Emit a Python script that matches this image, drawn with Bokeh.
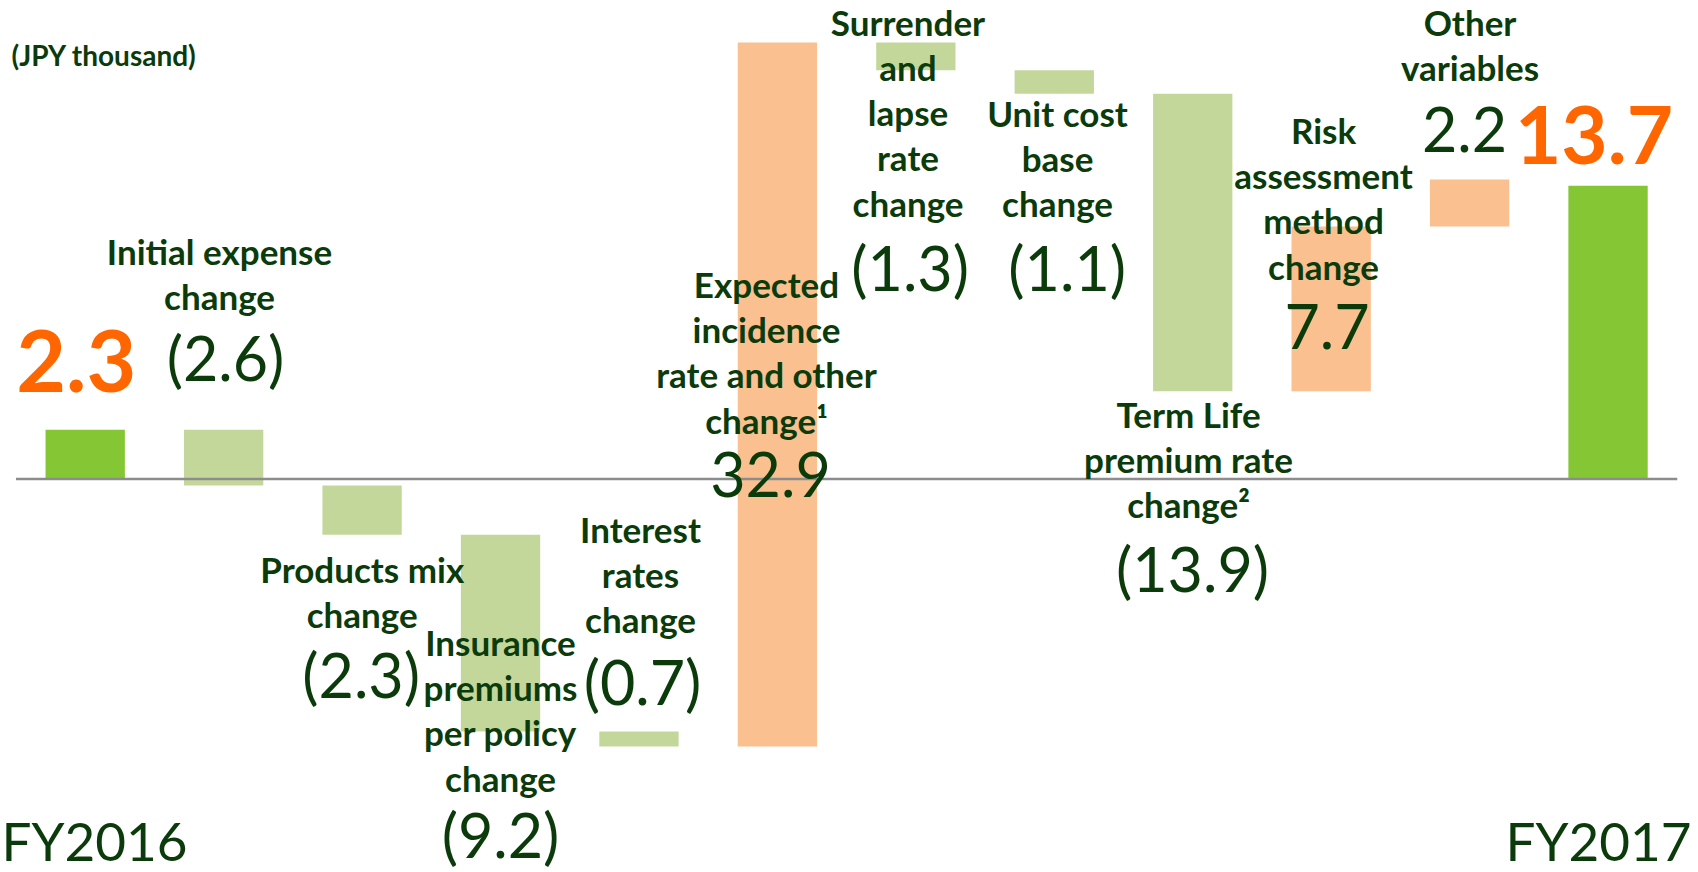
from bokeh.plotting import figure
from bokeh.models import ColumnDataSource, Range1d
from bokeh.core.properties import value
from bokeh.embed import file_html
from bokeh.resources import INLINE

# ---------------- data ----------------
categories = ["FY2016", "Initial expense change", "Products mix change",
              "Insurance premiums per policy change", "Interest rates change",
              "Expected incidence rate and other change", "Surrender and lapse rate change",
              "Unit cost base change", "Term Life premium rate change",
              "Risk assessment method change", "Other variables", "FY2017"]
start_value = 2.3
changes = [-2.6, -2.3, -9.2, -0.7, 32.9, -1.3, -1.1, -13.9, 7.7, 2.2]
end_value = 13.7

label_lines = [
    ["Initial expense", "change"],
    ["Products mix", "change"],
    ["Insurance", "premiums", "per policy", "change"],
    ["Interest", "rates", "change"],
    ["Expected", "incidence", "rate and other", "change\u00b9"],
    ["Surrender", "and", "lapse", "rate", "change"],
    ["Unit cost", "base", "change"],
    ["Term Life", "premium rate", "change\u00b2"],
    ["Risk", "assessment", "method", "change"],
    ["Other", "variables"],
]
value_labels = ["(2.6)", "(2.3)", "(9.2)", "(0.7)", "32.9", "(1.3)", "(1.1)", "(13.9)", "7.7", "2.2"]
total_labels = ["2.3", "13.7"]
year_labels = ["FY2016", "FY2017"]
unit_label = "(JPY thousand)"

# ---------------- layout (pixels in the picture) ----------------
W, H = 1698, 872
X_CENTER0, X_STEP = 84.7, 138.44     # pixel centre of first category, category step
Y_ZERO, Y_SCALE = 478.5, 21.4        # pixel of value 0, pixels per unit
LINE_GAP = 45.2
TY = -2.5                            # small vertical nudge for texts

def dx(px):   # pixel x -> data x
    return (px - X_CENTER0) / X_STEP

def dy(py):   # pixel y -> data y
    return (Y_ZERO - (py + TY)) / Y_SCALE

# label block positions: (x px, first line y px, number x px, number y px)
label_pos = [
    (219, 253, 225, 359),
    (361.7, 570.7, 360.6, 676.8),
    (500, 644, 500, 836),
    (640, 530.6, 642, 683),
    (766, 286, 770, 476.5),
    (907.5, 23.8, 909.6, 269.6),
    (1057, 114.8, 1066.7, 269.6),
    (1188, 415.8, 1192, 570.7),
    (1323, 132, 1326.5, 328),
    (1469.5, 23.8, 1464, 131),
]

TEXT_DARK = "#0b3b0b"
ORANGE_TXT = "#ff6600"
GREEN_TOTAL = "#84c634"
GREEN_LIGHT = "#c4d79b"
ORANGE_LIGHT = "#fac090"
FONT = "Lato"

# ---------------- bars ----------------
n = len(categories)
xs, bottoms, tops, colors = [], [], [], []
xs.append(0); bottoms.append(0); tops.append(start_value); colors.append(GREEN_TOTAL)
cum = start_value
for i, c in enumerate(changes):
    new = cum + c
    xs.append(i + 1)
    bottoms.append(min(cum, new)); tops.append(max(cum, new))
    colors.append(ORANGE_LIGHT if c > 0 else GREEN_LIGHT)
    cum = new
xs.append(n - 1); bottoms.append(0); tops.append(end_value); colors.append(GREEN_TOTAL)

bar_src = ColumnDataSource(dict(x=xs, bottom=bottoms, top=tops, color=colors))

p = figure(width=W, height=H, output_backend="svg", toolbar_location=None,
           x_range=Range1d(dx(0), dx(W)),
           y_range=Range1d((Y_ZERO - H) / Y_SCALE, Y_ZERO / Y_SCALE),
           min_border=0, min_border_left=0, min_border_right=0,
           min_border_top=0, min_border_bottom=0)
p.xaxis.visible = False
p.yaxis.visible = False
p.grid.visible = False
p.outline_line_color = None
p.background_fill_color = "white"
p.border_fill_color = "white"

p.vbar(x="x", bottom="bottom", top="top", width=0.573, color="color",
       line_color=None, source=bar_src)

# zero line across the categories
p.segment(x0=[-0.5], y0=[0], x1=[n - 0.5], y1=[0], line_color="#8c8c8c", line_width=2.5)

# ---------------- texts ----------------
lx, ly, lt = [], [], []
nx, ny, nt = [], [], []
for lines, (px, py, npx, npy), vl in zip(label_lines, label_pos, value_labels):
    for k, line in enumerate(lines):
        lx.append(dx(px)); ly.append(dy(py + k * LINE_GAP)); lt.append(line)
    nx.append(dx(npx)); ny.append(dy(npy)); nt.append(vl)

p.text(x="x", y="y", text="t", source=ColumnDataSource(dict(x=lx, y=ly, t=lt)),
       text_font=value(FONT), text_font_style="bold", text_font_size="35px",
       text_color=TEXT_DARK, text_align="center", text_baseline="middle")

p.text(x="x", y="y", text="t", source=ColumnDataSource(dict(x=nx, y=ny, t=nt)),
       text_font=value(FONT), text_font_size="61px",
       text_color=TEXT_DARK, text_align="center", text_baseline="middle")

p.text(x=[dx(75.8)], y=[dy(362.8)], text=[total_labels[0]],
       text_font=value(FONT), text_font_style="bold", text_font_size="86px",
       text_color=ORANGE_TXT, text_align="center", text_baseline="middle")
p.text(x=[dx(1593.5)], y=[dy(136.5)], text=[total_labels[1]],
       text_font=value(FONT), text_font_style="bold", text_font_size="80px",
       text_color=ORANGE_TXT, text_align="center", text_baseline="middle")

p.text(x=[dx(94), dx(1598)], y=[dy(842), dy(842)], text=year_labels,
       text_font=value(FONT), text_font_size="53px",
       text_color=TEXT_DARK, text_align="center", text_baseline="middle")

p.text(x=[dx(11)], y=[dy(57.4)], text=[unit_label],
       text_font=value(FONT), text_font_style="bold", text_font_size="28px",
       text_color=TEXT_DARK, text_align="left", text_baseline="middle")

open("out.html", "w").write(file_html(p, INLINE))
